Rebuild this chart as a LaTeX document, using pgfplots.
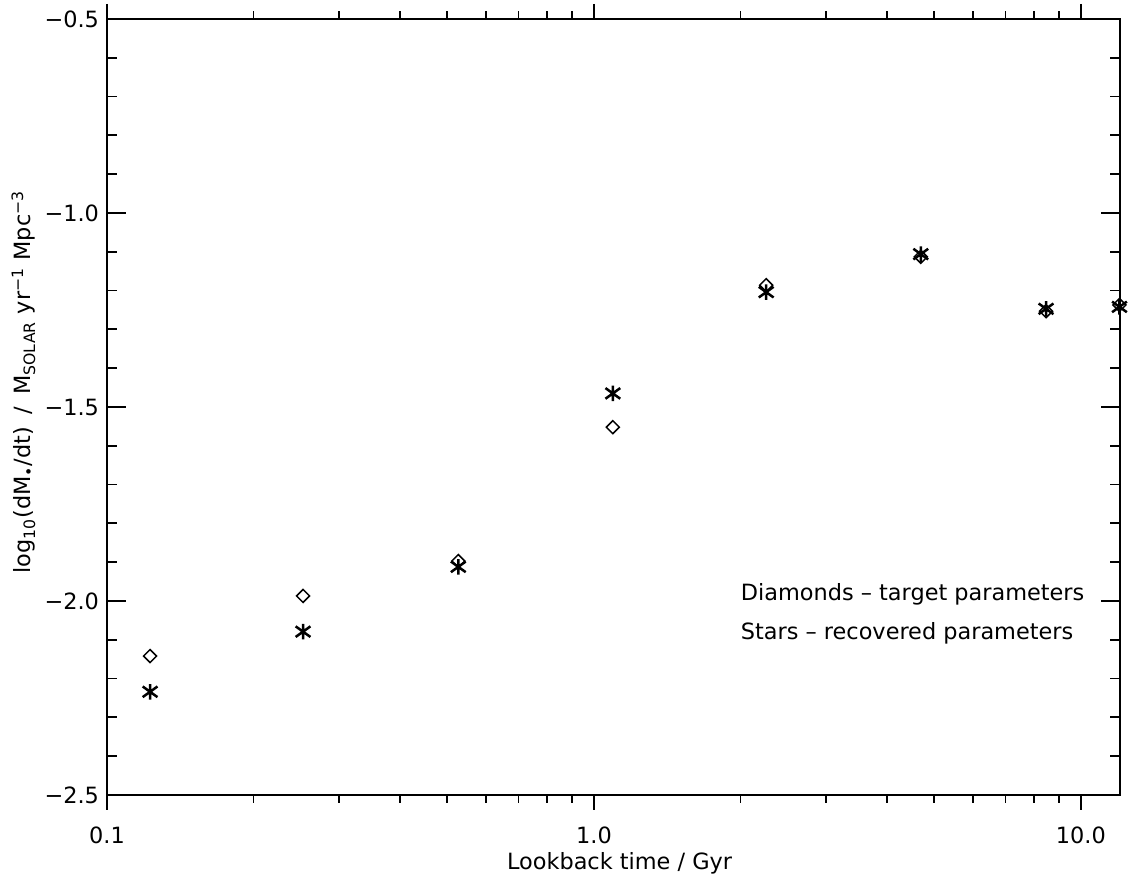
\documentclass[border=0pt]{standalone}
\usepackage{pgfplots}
\pgfplotsset{compat=1.18}
\usepackage{fontspec}
\setmainfont{DejaVu Sans}

% open diamond and six-armed asterisk marks
\pgfdeclareplotmark{odiamond}{%
  \pgfpathmoveto{\pgfqpoint{\pgfplotmarksize}{0pt}}%
  \pgfpathlineto{\pgfqpoint{0pt}{\pgfplotmarksize}}%
  \pgfpathlineto{\pgfqpoint{-\pgfplotmarksize}{0pt}}%
  \pgfpathlineto{\pgfqpoint{0pt}{-\pgfplotmarksize}}%
  \pgfpathclose
  \pgfusepathqstroke}
\pgfdeclareplotmark{astar}{%
  \pgfpathmoveto{\pgfqpoint{0pt}{1.05\pgfplotmarksize}}%
  \pgfpathlineto{\pgfqpoint{0pt}{-1.05\pgfplotmarksize}}%
  \pgfpathmoveto{\pgfqpoint{-\pgfplotmarksize}{-0.72\pgfplotmarksize}}%
  \pgfpathlineto{\pgfqpoint{\pgfplotmarksize}{0.72\pgfplotmarksize}}%
  \pgfpathmoveto{\pgfqpoint{-\pgfplotmarksize}{0.72\pgfplotmarksize}}%
  \pgfpathlineto{\pgfqpoint{\pgfplotmarksize}{-0.72\pgfplotmarksize}}%
  \pgfusepathqstroke}

\pgfplotstableread{
t       target
0.1226  -2.142
0.2527  -1.987
0.5266  -1.897
1.0935  -1.552
2.258   -1.186
4.69    -1.113
8.48    -1.253
12.0    -1.237
}\targettab
\pgfplotstableread{
t       recovered
0.1226  -2.234
0.2527  -2.079
0.5266  -1.912
1.0935  -1.465
2.258   -1.204
4.69    -1.106
8.48    -1.247
12.0    -1.242
}\recoveredtab

\newcommand{\lblfont}{\fontsize{11.2}{13}\selectfont}

\begin{document}
\begin{tikzpicture}
% y axis: ticks pointing inwards on both sides
\begin{axis}[
  scale only axis, width=506.5pt, height=388pt,
  xmode=log, xmin=0.1, xmax=12.03,
  ymin=-2.5, ymax=-0.5,
  clip=false,
  axis line style={line width=0.9pt, black},
  every tick/.style={black, line width=0.9pt},
  tick label style={font=\lblfont},
  xtick=\empty, xminorticks=false,
  ytick={-2.5,-2.0,-1.5,-1.0,-0.5},
  yticklabels={−2.5,−2.0,−1.5,−1.0,−0.5},
  yticklabel style={xshift=-0.5pt},
  minor y tick num=4,
  tick align=inside,
  major tick length=9.5pt, minor tick length=5pt,
  ylabel={log\textsubscript{10}(dM\textsubscript{•}/dt)\hspace{0.55em}/\hspace{0.55em}M\textsubscript{SOLAR} yr\textsuperscript{−1} Mpc\textsuperscript{−3}},
  every axis y label/.style={at={(rel axis cs:0,0.532)}, rotate=90, anchor=base, yshift=38pt, font=\lblfont},
]
\addplot[only marks, mark=odiamond, mark size=3.25pt, line width=0.75pt, black] table[x=t, y=target] {\targettab};
\addplot[only marks, mark=astar, mark size=3.7pt, line width=1.25pt, black] table[x=t, y=recovered] {\recoveredtab};
\node[anchor=base west, inner sep=0pt, font=\lblfont] at (axis cs:2.0,-2.0) {Diamonds – target parameters};
\node[anchor=base west, inner sep=0pt, font=\lblfont] at (axis cs:2.0,-2.1) {Stars – recovered parameters};
\coordinate (sw) at (rel axis cs:0,0);
\coordinate (ne) at (rel axis cs:1,1);
\end{axis}
% x axis: ticks pointing outwards, bottom and top
\begin{axis}[
  scale only axis, width=506.5pt, height=388pt,
  xmode=log, xmin=0.1, xmax=12.03,
  ymin=-2.5, ymax=-0.5,
  clip=false,
  axis line style={line width=0.9pt, black},
  every tick/.style={black, line width=0.9pt},
  tick label style={font=\lblfont},
  ytick=\empty, yminorticks=false,
  xtick={0.1,1,10}, xticklabels={0.1,1.0,10.0},
  minor xtick={0.2,0.3,0.4,0.5,0.6,0.7,0.8,0.9,2,3,4,5,6,7,8,9},
  tick align=outside,
  major tick length=7.5pt, minor tick length=4pt,
  xticklabel style={anchor=base, yshift=-17pt},
  xlabel={Lookback time / Gyr},
  every axis x label/.style={at={(rel axis cs:0.506,0)}, anchor=base, yshift=-37.5pt, font=\lblfont},
]
\end{axis}
\pgfresetboundingbox
\path ([shift={(-53.5pt,-42pt)}]sw) rectangle ([shift={(6.5pt,9.5pt)}]ne);
\end{tikzpicture}
\end{document}
